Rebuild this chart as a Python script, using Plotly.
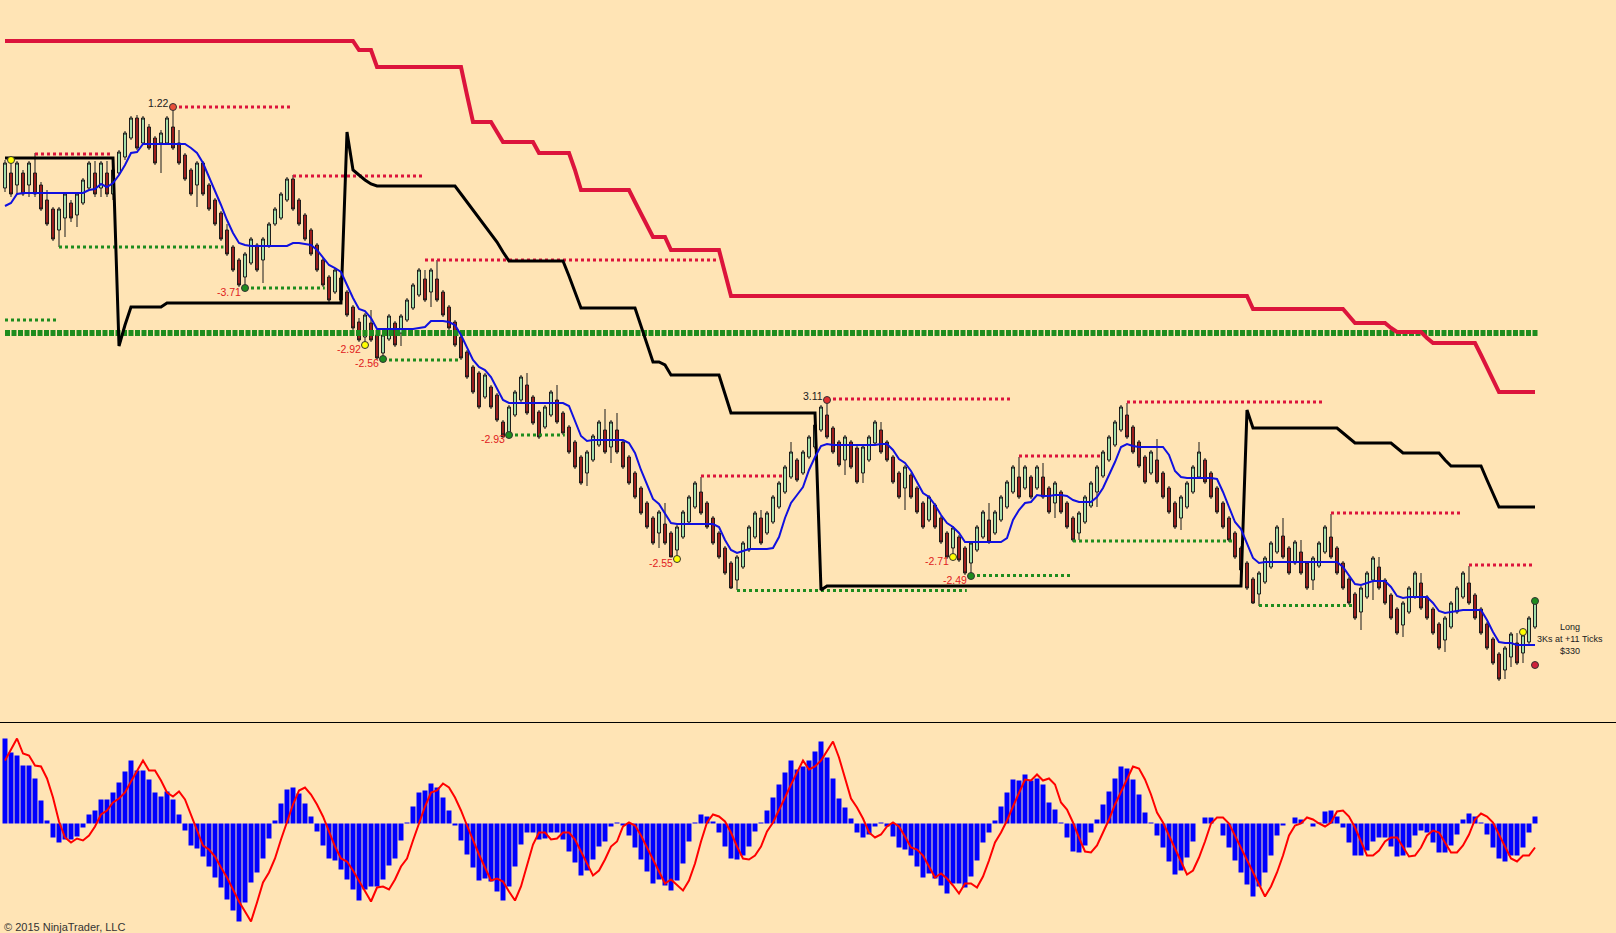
import plotly.graph_objects as go

# ---------------- price bars (arbitrary price units) ----------------
opens = [
 812, 827, 815, 827, 815, 827, 815, 800, 791, 770,
 782, 797, 785, 797, 812, 827, 812, 827, 806, 827,
 843, 862, 882, 857, 873, 862, 857, 857, 873, 857,
 845, 830, 815, 837, 815, 800, 787, 770, 753, 740,
 723, 737, 755, 740, 754, 776, 782, 800, 821, 800,
 785, 770, 755, 740, 723, 708, 722, 708, 693, 678,
 663, 677, 665, 647, 661, 677, 667, 680, 692, 705,
 721, 708, 721, 708, 693, 678, 663, 648, 633, 627,
 603, 613, 605, 578, 567, 585, 600, 615, 603, 588,
 573, 585, 600, 587, 573, 558, 543, 527, 540, 555,
 570, 553, 570, 558, 543, 527, 512, 497, 482, 467,
 476, 467, 450, 463, 478, 493, 508, 497, 482, 467,
 452, 437, 420, 433, 450, 463, 482, 467, 478, 493,
 508, 523, 540, 527, 543, 553, 570, 585, 572, 558,
 540, 558, 552, 527, 540, 557, 570, 558, 543, 527,
 512, 525, 512, 497, 480, 495, 482, 467, 452, 463,
 452, 437, 450, 463, 480, 467, 480, 493, 508, 523,
 512, 523, 512, 523, 512, 497, 508, 497, 482, 467,
 478, 494, 508, 524, 540, 555, 570, 585, 573, 558,
 543, 527, 540, 527, 512, 497, 482, 493, 508, 523,
 540, 527, 512, 497, 482, 467, 452, 437, 421, 406,
 418, 433, 448, 464, 452, 437, 448, 437, 420, 434,
 448, 463, 452, 437, 421, 406, 388, 403, 420, 433,
 420, 405, 391, 375, 388, 403, 417, 403, 391, 376,
 360, 373, 388, 403, 417, 405, 391, 376, 361, 346,
 330, 343, 357, 347, 358, 373]
highs = [
 840, 840, 839, 830, 839, 847, 818, 810, 793, 793,
 808, 800, 808, 822, 839, 839, 839, 839, 842, 850,
 869, 884, 885, 884, 876, 864, 870, 884, 892, 870,
 847, 832, 839, 839, 817, 802, 789, 776, 755, 742,
 748, 763, 757, 763, 778, 793, 808, 823, 825, 802,
 787, 772, 757, 742, 725, 732, 724, 710, 695, 682,
 687, 690, 667, 667, 686, 679, 686, 702, 717, 732,
 730, 732, 740, 710, 695, 680, 665, 650, 635, 629,
 627, 615, 607, 580, 595, 610, 625, 627, 605, 590,
 595, 610, 615, 589, 575, 560, 545, 550, 566, 580,
 591, 580, 587, 560, 545, 529, 514, 499, 484, 490,
 497, 469, 475, 490, 505, 519, 523, 499, 484, 469,
 454, 439, 445, 459, 475, 489, 490, 489, 505, 519,
 535, 558, 542, 550, 565, 577, 595, 600, 574, 560,
 565, 560, 554, 555, 565, 580, 578, 560, 545, 529,
 535, 527, 514, 499, 505, 497, 484, 469, 474, 465,
 454, 459, 475, 490, 497, 490, 505, 520, 535, 543,
 535, 525, 535, 537, 514, 519, 510, 499, 484, 489,
 505, 519, 535, 550, 565, 580, 595, 597, 575, 560,
 545, 550, 561, 529, 514, 499, 505, 519, 535, 558,
 542, 529, 514, 499, 484, 469, 454, 439, 423, 429,
 444, 459, 475, 482, 454, 460, 460, 439, 444, 459,
 475, 486, 454, 439, 423, 408, 414, 429, 444, 443,
 422, 407, 393, 399, 414, 429, 427, 405, 393, 378,
 384, 399, 414, 429, 434, 407, 393, 378, 363, 348,
 354, 368, 367, 368, 384, 399]
lows = [
 808, 803, 805, 804, 803, 803, 789, 774, 759, 753,
 763, 778, 773, 795, 810, 803, 803, 803, 800, 825,
 840, 860, 850, 855, 850, 835, 827, 855, 850, 835,
 819, 804, 793, 804, 789, 774, 759, 744, 728, 713,
 712, 735, 728, 717, 752, 774, 780, 798, 789, 774,
 759, 744, 728, 713, 698, 706, 698, 683, 670, 658,
 655, 658, 640, 641, 659, 653, 654, 678, 690, 703,
 698, 693, 698, 683, 670, 653, 640, 621, 606, 591,
 601, 591, 578, 567, 565, 583, 598, 585, 575, 561,
 571, 583, 576, 565, 546, 531, 515, 514, 538, 553,
 546, 537, 546, 531, 515, 501, 485, 471, 455, 452,
 455, 443, 441, 461, 476, 491, 485, 471, 455, 441,
 425, 411, 410, 431, 448, 461, 455, 465, 476, 491,
 506, 521, 518, 525, 541, 551, 568, 561, 546, 533,
 525, 531, 516, 517, 538, 555, 546, 538, 516, 501,
 490, 501, 486, 471, 478, 471, 456, 441, 443, 438,
 425, 424, 448, 461, 456, 465, 478, 491, 506, 501,
 510, 501, 510, 501, 486, 482, 486, 471, 458, 460,
 476, 492, 493, 522, 538, 553, 568, 561, 546, 532,
 516, 525, 516, 501, 486, 471, 470, 491, 506, 521,
 516, 501, 486, 471, 458, 441, 428, 410, 396, 394,
 416, 431, 446, 441, 425, 435, 425, 410, 410, 432,
 446, 441, 425, 410, 395, 380, 370, 401, 400, 410,
 395, 380, 365, 363, 386, 401, 390, 380, 365, 350,
 348, 371, 386, 401, 395, 380, 365, 350, 335, 319,
 321, 333, 335, 337, 356, 371]
closes = [
 837, 806, 837, 806, 837, 806, 791, 776, 761, 791,
 806, 782, 806, 820, 837, 806, 837, 806, 830, 848,
 867, 882, 852, 882, 852, 837, 867, 882, 852, 837,
 821, 806, 837, 806, 791, 776, 761, 746, 730, 715,
 746, 761, 730, 761, 776, 791, 806, 821, 791, 776,
 761, 746, 730, 715, 700, 730, 700, 685, 672, 660,
 685, 660, 642, 665, 684, 655, 684, 700, 715, 730,
 700, 730, 700, 685, 672, 655, 642, 623, 608, 593,
 625, 593, 580, 563, 593, 608, 623, 587, 577, 563,
 593, 608, 578, 567, 548, 533, 517, 548, 564, 578,
 548, 578, 548, 533, 517, 503, 487, 473, 457, 488,
 457, 443, 473, 488, 503, 517, 487, 473, 457, 443,
 427, 412, 443, 457, 473, 487, 457, 487, 503, 517,
 533, 548, 520, 548, 563, 575, 593, 563, 548, 535,
 563, 533, 518, 553, 563, 578, 548, 540, 518, 503,
 533, 503, 488, 473, 503, 473, 458, 443, 472, 440,
 427, 457, 473, 488, 458, 488, 503, 518, 533, 503,
 533, 503, 533, 503, 488, 517, 488, 473, 460, 487,
 503, 517, 533, 548, 563, 578, 593, 563, 548, 534,
 518, 548, 518, 503, 488, 473, 503, 517, 533, 548,
 518, 503, 488, 473, 460, 443, 430, 412, 397, 427,
 442, 457, 473, 443, 427, 458, 427, 412, 442, 457,
 473, 443, 427, 412, 397, 382, 412, 427, 442, 412,
 397, 382, 367, 397, 412, 427, 392, 382, 367, 352,
 382, 397, 412, 427, 397, 382, 367, 352, 337, 321,
 352, 366, 337, 365, 382, 398]

# blue moving average
avg_line = [
 794, 797, 806, 807, 807, 807, 807, 807, 807, 807,
 807, 807, 807, 807, 810, 811, 816, 813, 817, 825,
 835, 847, 848, 856, 856, 856, 856, 856, 856, 856,
 856, 852, 847, 837, 823, 810, 795, 780, 767, 757,
 755, 754, 754, 754, 754, 754, 754, 754, 757, 757,
 756, 755, 750, 742, 735, 732, 728, 715, 702, 691,
 689, 682, 671, 671, 671, 671, 671, 671, 671, 672,
 673, 679, 679, 679, 678, 675, 665, 653, 640, 633,
 630, 623, 612, 600, 597, 597, 597, 597, 597, 597,
 597, 597, 597, 597, 594, 578, 564, 559, 560, 560,
 560, 560, 560, 560, 557, 547, 530, 515, 501, 496,
 487, 477, 476, 476, 476, 476, 476, 476, 476, 473,
 460, 450, 447, 449, 451, 451, 451, 451, 452, 463,
 482, 497, 505, 513, 530, 543, 554, 556, 555, 555,
 555, 555, 555, 555, 555, 555, 556, 556, 550, 541,
 537, 529, 518, 507, 503, 495, 485, 477, 473, 467,
 458, 458, 458, 458, 458, 458, 458, 462, 480, 490,
 497, 498, 505, 504, 504, 505, 505, 504, 500, 498,
 498, 498, 503, 512, 525, 538, 553, 556, 554, 553,
 553, 553, 553, 553, 545, 529, 523, 522, 522, 522,
 522, 522, 521, 508, 493, 478, 471, 457, 442, 437,
 438, 438, 438, 438, 438, 438, 438, 438, 438, 438,
 438, 438, 438, 433, 425, 416, 415, 417, 419, 419,
 419, 413, 404, 402, 403, 403, 403, 403, 397, 389,
 387, 388, 389, 390, 390, 390, 390, 380, 368, 358,
 357, 357, 355, 355, 355, 355]

# step lines: (first bar, value)
red_stop_runs = [(0, 959), (59, 950), (62, 933), (77, 905), (78, 878), (82, 868), (83, 858),
                 (89, 847), (95, 830), (96, 810), (105, 798), (106, 786), (107, 775), (108, 763),
                 (111, 750), (120, 727), (121, 704), (208, 691), (224, 684), (225, 677),
                 (231, 672), (232, 668), (237, 662), (238, 657), (246, 645), (247, 632),
                 (248, 620), (249, 608)]
black_runs = [(0, 842), (19, 654), (20, 675), (21, 693), (27, 697), (57, 868), (58, 830),
              (59, 825), (60, 820), (61, 816), (62, 814), (76, 806), (77, 798), (78, 790),
              (79, 782), (80, 774), (81, 766), (82, 758), (83, 748), (84, 739), (94, 724),
              (95, 708), (96, 692), (106, 674), (107, 656), (108, 638), (110, 635), (111, 625),
              (120, 606), (121, 587), (136, 410), (137, 414), (207, 590), (208, 572),
              (223, 567), (224, 562), (225, 557), (232, 552), (233, 547), (240, 540),
              (241, 534), (247, 520), (248, 506), (249, 493)]

# swing levels: (start bar, end bar, value)
resistance_levels = [(5, 18, 846), (28, 47.7, 893), (48, 69.5, 824), (70, 118.5, 740),
                     (116, 129.7, 524), (137, 168, 601), (169, 182.6, 544), (187, 220, 598),
                     (221, 243, 487), (244, 255, 435)]
support_levels = [(0, 8.5, 680), (9, 36.4, 753), (40, 53.3, 712), (63, 76, 640), (84, 93.3, 565),
                  (122, 160.3, 409.5), (161, 177.5, 424.5), (178, 204.5, 459), (209, 224.5, 394.5)]
base_level = 667

# swing labels: (text, bar, value, kind)
swing_labels = [("1.22", 28, 893, "high"), ("-3.71", 40, 712, "low"), ("-2.92", 60, 655, "low"),
                ("-2.56", 63, 641, "low"), ("-2.93", 84, 565, "low"), ("-2.55", 112, 441, "low"),
                ("3.11", 137, 600, "high"), ("-2.71", 158, 443, "low"), ("-2.49", 161, 424, "low")]
# markers: (bar, value, colour)
marker_dots = [(1, 840, "#FFFF00"), (28, 893, "#E8503A"), (40, 712, "#1E8C1E"), (60, 655, "#FFFF00"),
               (63, 641, "#1E8C1E"), (84, 565, "#1E8C1E"), (112, 441, "#FFFF00"), (137, 600, "#E03030"),
               (158, 443, "#FFFF00"), (161, 424, "#1E8C1E"), (253, 368, "#FFFF00"),
               (255, 399, "#1E8C1E"), (255, 335, "#D0203A")]
trade_text = ["Long", "3Ks at +11 Ticks", "$330"]

# oscillator
osc_hist = [
 85, 71, 68, 58, 58, 45, 23, 3, -14, -19,
 -16, -16, -13, -4, 9, 13, 24, 24, 31, 41,
 52, 63, 53, 53, 44, 31, 27, 32, 24, 9,
 -7, -22, -25, -33, -43, -54, -64, -76, -87, -98,
 -79, -59, -49, -35, -15, 3, 20, 34, 36, 30,
 20, 7, -8, -22, -35, -37, -46, -56, -66, -77,
 -66, -63, -63, -56, -42, -35, -17, 1, 17, 31,
 33, 40, 36, 26, 13, -2, -17, -31, -44, -57,
 -55, -58, -68, -77, -63, -43, -21, -9, -9, -16,
 -15, -9, -9, -16, -28, -39, -52, -47, -36, -23,
 -18, -3, 1, -2, -12, -24, -36, -48, -60, -56,
 -62, -67, -57, -40, -18, 1, 9, 7, 2, -9,
 -23, -35, -36, -32, -23, -8, 1, 13, 26, 39,
 51, 63, 54, 57, 63, 72, 82, 66, 45, 25,
 16, 5, -9, -14, -11, -3, 1, -3, -13, -24,
 -26, -32, -43, -54, -50, -55, -62, -70, -60, -60,
 -64, -53, -37, -19, -9, 3, 17, 31, 44, 43,
 49, 43, 45, 39, 21, 14, 1, -14, -28, -29,
 -22, -9, 4, 19, 32, 45, 57, 55, 44, 29,
 11, 1, -12, -24, -38, -51, -47, -34, -18, 0,
 6, 6, 0, -12, -24, -37, -49, -61, -73, -63,
 -49, -32, -12, -2, 0, 6, 4, 0, -3, 1,
 12, 13, 7, -4, -19, -32, -32, -27, -18, -14,
 -14, -23, -33, -32, -24, -12, -7, -9, -19, -29,
 -29, -22, -11, 4, 10, 7, 1, -11, -24, -35,
 -38, -32, -32, -24, -9, 7]
osc_signal = [
 63, 74, 85, 70, 68, 58, 57, 45, 26, 2,
 -14, -19, -15, -17, -12, -3, 9, 13, 21, 25,
 31, 42, 53, 63, 53, 53, 43, 31, 27, 32,
 24, 9, -8, -22, -26, -33, -44, -54, -66, -78,
 -88, -98, -79, -59, -49, -35, -16, 2, 19, 33,
 36, 29, 19, 7, -9, -23, -35, -38, -47, -57,
 -67, -78, -64, -63, -66, -56, -43, -35, -17, 1,
 17, 31, 33, 40, 36, 26, 13, -2, -17, -31,
 -44, -57, -55, -58, -68, -77, -63, -43, -21, -9,
 -9, -16, -15, -9, -9, -16, -28, -39, -52, -47,
 -36, -23, -18, -3, 1, -2, -12, -24, -36, -48,
 -60, -56, -62, -67, -57, -40, -18, 1, 9, 7,
 2, -9, -23, -35, -36, -32, -23, -8, 1, 13,
 26, 39, 51, 63, 54, 57, 63, 72, 82, 66,
 45, 25, 16, 5, -9, -14, -11, -3, 1, -3,
 -13, -24, -26, -32, -43, -54, -50, -55, -62, -70,
 -60, -60, -64, -53, -37, -19, -9, 3, 17, 31,
 44, 43, 49, 43, 45, 39, 21, 14, 1, -14,
 -28, -29, -22, -9, 4, 19, 32, 45, 57, 55,
 44, 29, 11, 1, -12, -24, -38, -51, -47, -34,
 -18, 0, 6, 6, 0, -12, -24, -37, -49, -61,
 -73, -63, -49, -32, -12, -2, 0, 6, 4, 0,
 -3, 1, 12, 13, 7, -4, -19, -32, -32, -27,
 -18, -14, -14, -23, -33, -32, -24, -12, -7, -9,
 -19, -29, -29, -22, -11, 4, 10, 7, 1, -11,
 -24, -35, -38, -32, -32, -24]

# ---------------- build ----------------
BG = "#FFE4B5"
FONT = "Liberation Sans, Arial, sans-serif"
n = len(closes)
bars = list(range(n))


def expand(runs, count):
    out = []
    for k, (start, val) in enumerate(runs):
        end = runs[k + 1][0] if k + 1 < len(runs) else count
        out += [val] * (end - start)
    return out


def segments(levels):
    xs, ys = [], []
    for s, e, v in levels:
        xs += [s, e, None]
        ys += [v, v, None]
    return xs, ys


fig = go.Figure()

fig.add_trace(go.Candlestick(
    x=bars, open=opens, high=highs, low=lows, close=closes,
    increasing=dict(fillcolor="#A6E3AE", line=dict(color="#1a1a1a", width=1)),
    decreasing=dict(fillcolor="#A01E1E", line=dict(color="#1a1a1a", width=1)),
    whiskerwidth=0, hoverinfo="skip", xaxis="x", yaxis="y"))

rx, ry = segments(resistance_levels)
fig.add_trace(go.Scatter(x=rx, y=ry, mode="lines", hoverinfo="skip",
                         line=dict(color="#DC143C", width=3, dash="dot")))
gx, gy = segments(support_levels)
fig.add_trace(go.Scatter(x=gx, y=gy, mode="lines", hoverinfo="skip",
                         line=dict(color="#1E8C1E", width=3, dash="dot")))
fig.add_trace(go.Scatter(x=[0, n - 0.5], y=[base_level, base_level], mode="lines", hoverinfo="skip",
                         line=dict(color="#1E8C1E", width=6, dash="5px,1.5px")))

fig.add_trace(go.Scatter(x=bars, y=expand(red_stop_runs, n), mode="lines", hoverinfo="skip",
                         line=dict(color="#DC143C", width=4)))
fig.add_trace(go.Scatter(x=bars, y=expand(black_runs, n), mode="lines", hoverinfo="skip",
                         line=dict(color="#000000", width=3)))
fig.add_trace(go.Scatter(x=bars, y=avg_line, mode="lines", hoverinfo="skip",
                         line=dict(color="#1010E0", width=2)))

fig.add_trace(go.Scatter(x=[d[0] for d in marker_dots], y=[d[1] for d in marker_dots],
                         mode="markers", hoverinfo="skip",
                         marker=dict(size=7, color=[d[2] for d in marker_dots],
                                     line=dict(color="#333333", width=1))))

for text, b, v, kind in swing_labels:
    fig.add_annotation(x=b - 0.35, y=v, xref="x", yref="y", text=text, showarrow=False,
                       xanchor="right", yanchor="middle", yshift=(4 if kind == "high" else -4),
                       font=dict(family=FONT, size=10.5,
                                 color=("#202020" if kind == "high" else "#E0201C")))

for k, t in enumerate(trade_text):
    fig.add_annotation(x=260.75, y=373.5 - 12 * k, xref="x", yref="y", text=t, showarrow=False,
                       xanchor="center", yanchor="middle",
                       font=dict(family=FONT, size=9, color="#202020"))

# oscillator panel
fig.add_trace(go.Bar(x=bars, y=osc_hist, width=0.83, marker=dict(color="#0000FF", line=dict(width=0)),
                     hoverinfo="skip", xaxis="x2", yaxis="y2"))
fig.add_trace(go.Scatter(x=bars, y=osc_signal, mode="lines", hoverinfo="skip",
                         line=dict(color="#FF0000", width=2), xaxis="x2", yaxis="y2"))

D = 210.5 / 933
XR = [-5 / 6, 268.5]
fig.update_layout(
    width=1616, height=933, margin=dict(l=0, r=0, t=0, b=0),
    paper_bgcolor=BG, plot_bgcolor=BG, showlegend=False,
    xaxis=dict(range=XR, visible=False, rangeslider=dict(visible=False), domain=[0, 1], anchor="y"),
    yaxis=dict(range=[277.5, 1000], domain=[D, 1], visible=False, anchor="x"),
    xaxis2=dict(range=XR, visible=False, domain=[0, 1], anchor="y2"),
    yaxis2=dict(range=[-109.5, 101], domain=[0, D], visible=False, anchor="x2"),
    shapes=[dict(type="line", xref="paper", yref="paper", x0=0, x1=1, y0=D, y1=D,
                 line=dict(color="#000000", width=1))],
)
fig.add_annotation(x=0, y=6.5 / 933, xref="paper", yref="paper", text="© 2015 NinjaTrader, LLC",
                   showarrow=False, xanchor="left", yanchor="middle", xshift=2,
                   font=dict(family=FONT, size=11, color="#333333"))

fig.write_html("out.html", config={"displayModeBar": False},
               post_script="document.body.style.margin='0';document.body.style.overflow='hidden';")
